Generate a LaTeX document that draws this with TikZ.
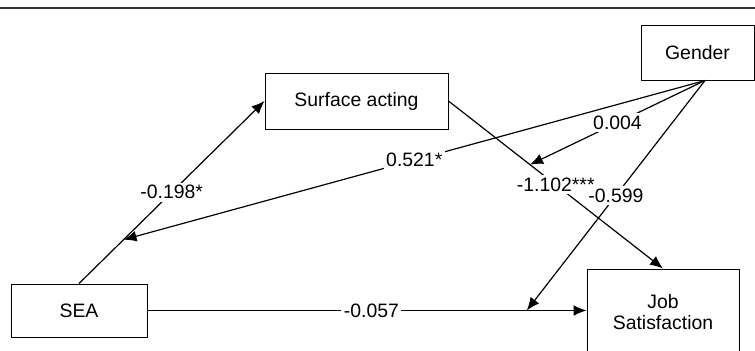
\documentclass[tikz,border=0pt]{standalone}
\usepackage{fontspec}
\setmainfont{Liberation Sans}
\usetikzlibrary{positioning, arrows.meta, calc}

\begin{document}
\begin{tikzpicture}[x=0.5pt, y=-0.5pt]
	\tikzset{
		var/.style={draw, line width=0.5pt, inner sep=0pt, align=center, font=\fontsize{9.7}{10.5}\selectfont},
		with arrow/.style={line width=0.6pt, -{Latex[length=6.5pt, width=5.4pt]}},
		coef/.style={fill=white, inner sep=1.2pt, font=\fontsize{9.7}{10.5}\selectfont}
	}
	\useasboundingbox (0,0) rectangle (755,350);
	\draw[line width=1.1pt, black!80] (0,8) -- (755,8);

	\node[var, minimum width=68pt, minimum height=26.5pt] (sea) at (79,310.5) {SEA};
	\node[var, minimum width=91.5pt, minimum height=28pt] (sa) at (356.5,101) {Surface acting};
	\node[var, minimum width=56.5pt, minimum height=27.5pt] (gender) at (697.5,52.5) {Gender};
	\node[var, minimum width=76pt, minimum height=43.5pt] (js) at (663,312.5) {Job\\Satisfaction};

	\coordinate (gsrc) at ([xshift=3.75pt]gender.south);
	\coordinate (m1) at ($(sea.north)!0.24!(sa.west)$);
	\coordinate (m2) at ($(sa.east)!0.38!(js.north)$);
	\coordinate (m3) at ($(sea.east)!0.864!(sea.east -| js.west)$);

	\draw[with arrow] (sea.north) -- node[coef] {-0.198*} (sa.west);
	\draw[with arrow] (sa.east) -- node[coef] {-1.102***} (js.north);
	\draw[with arrow] (sea.east) -- node[coef, pos=0.51] {-0.057} (sea.east -| js.west);
	\draw[with arrow] (gsrc) -- node[coef] {0.521*} (m1);
	\draw[with arrow] (gsrc) -- node[coef] {0.004} (m2);
	\draw[with arrow] (gsrc) -- node[coef] {-0.599} (m3);
\end{tikzpicture}
\end{document}
